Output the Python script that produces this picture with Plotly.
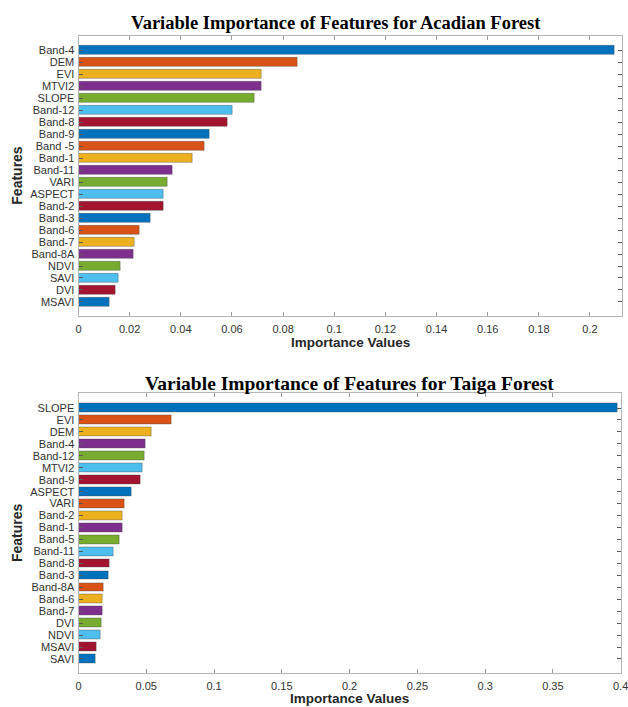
import plotly.graph_objects as go

# ---------------- data ----------------
acadian_features = ["Band-4", "DEM", "EVI", "MTVI2", "SLOPE", "Band-12", "Band-8",
                    "Band-9", "Band -5", "Band-1", "Band-11", "VARI", "ASPECT", "Band-2",
                    "Band-3", "Band-6", "Band-7", "Band-8A", "NDVI", "SAVI", "DVI", "MSAVI"]
acadian_values = [0.2094, 0.0857, 0.0714, 0.0714, 0.0688, 0.0603, 0.0582,
                  0.0514, 0.0492, 0.0447, 0.0369, 0.0348, 0.0331, 0.0331,
                  0.0281, 0.0237, 0.0218, 0.0215, 0.0164, 0.0158, 0.0145, 0.0122]

taiga_features = ["SLOPE", "EVI", "DEM", "Band-4", "Band-12", "MTVI2", "Band-9",
                  "ASPECT", "VARI", "Band-2", "Band-1", "Band-5", "Band-11", "Band-8",
                  "Band-3", "Band-8A", "Band-6", "Band-7", "DVI", "NDVI", "MSAVI", "SAVI"]
taiga_values = [0.398, 0.0688, 0.0535, 0.0493, 0.0488, 0.0471, 0.0456,
                0.0390, 0.0341, 0.0328, 0.0326, 0.0299, 0.0257, 0.0228,
                0.0218, 0.0188, 0.0178, 0.0176, 0.0166, 0.0159, 0.0131, 0.0122]

titles = ["Variable Importance of Features for Acadian Forest",
          "Variable Importance of Features for Taiga Forest"]
x_title = "Importance Values"
y_title = "Features"

palette = ["#0072BD", "#D95319", "#EDB120", "#7E2F8E", "#77AC30", "#4DBEEE", "#A2142F"]

W, H = 628, 707

def py(pix):
    return 1 - pix / H

def px(pix):
    return pix / W

fig = go.Figure()

panels = [
    dict(feats=acadian_features, vals=acadian_values, xa="x", ya="y",
         xr=[0, 0.2124], dtick=0.02, top=35.7, bot=315.7, left=78.5, right=621.7,
         title_y=23, title_size=18.5, title_dx=-0.022, xlab_y=342, ylab_y=175.7),
    dict(feats=taiga_features, vals=taiga_values, xa="x2", ya="y2",
         xr=[0, 0.40005], dtick=0.05, top=393.3, bot=672.7, left=78.5, right=620.7,
         title_y=383, title_size=19.5, title_dx=0.0, xlab_y=698, ylab_y=533),
]

axis_color = "#b5b5b5"
tick_font = dict(family="Liberation Sans, Arial, sans-serif", size=11, color="#333333")

for i, p in enumerate(panels):
    n = len(p["feats"])
    fig.add_trace(go.Bar(
        x=p["vals"], y=p["feats"], orientation="h",
        marker=dict(color=[palette[k % len(palette)] for k in range(n)],
                    line=dict(color="rgba(70,70,70,0.55)", width=0.7)),
        width=0.74, xaxis=p["xa"], yaxis=p["ya"], showlegend=False,
    ))
    sfx = "" if i == 0 else "2"
    fig.update_layout(**{
        "xaxis" + sfx: dict(
            domain=[px(p["left"]), px(p["right"])], range=p["xr"], dtick=p["dtick"], tick0=0,
            anchor="y" + sfx, showgrid=False, zeroline=False, showline=True,
            linecolor=axis_color, linewidth=1, mirror="ticks", ticks="inside",
            ticklen=4, tickcolor="#9a9a9a", tickfont=tick_font, ticklabelstandoff=3,
            ticklabeloverflow="allow", automargin=False,
        ),
        "yaxis" + sfx: dict(
            domain=[py(p["bot"]), py(p["top"])], type="category",
            categoryorder="array", categoryarray=p["feats"],
            tickmode="array", tickvals=p["feats"], ticktext=p["feats"],
            range=[n - 1 + 1.15, -1.23], anchor="x" + sfx, showgrid=False,
            zeroline=False, showline=True, linecolor=axis_color, linewidth=1,
            mirror="ticks", ticks="inside", ticklen=4, tickcolor="#5a5a5a",
            tickfont=tick_font, ticklabelstandoff=1, automargin=False,
        ),
    })
    # title
    fig.add_annotation(text="<b>" + titles[i] + "</b>",
                       x=px((p["left"] + p["right"]) / 2) + p["title_dx"],
                       y=py(p["title_y"]), xref="paper", yref="paper", showarrow=False,
                       xanchor="center", yanchor="middle",
                       font=dict(family="Liberation Serif, Times New Roman, serif",
                                 size=p["title_size"], color="#000000"))
    # x-axis title
    fig.add_annotation(text="<b>" + x_title + "</b>", x=px((p["left"] + p["right"]) / 2),
                       y=py(p["xlab_y"]), xref="paper", yref="paper", showarrow=False,
                       xanchor="center", yanchor="middle",
                       font=dict(family="Liberation Sans, Arial, sans-serif", size=13.5, color="#262626"))
    # y-axis title
    fig.add_annotation(text="<b>" + y_title + "</b>", x=px(17), y=py(p["ylab_y"]),
                       xref="paper", yref="paper", showarrow=False, textangle=-90,
                       xanchor="center", yanchor="middle",
                       font=dict(family="Liberation Sans, Arial, sans-serif", size=14, color="#262626"))

fig.update_layout(
    width=W, height=H, margin=dict(l=0, r=0, t=0, b=0, autoexpand=False),
    paper_bgcolor="white", plot_bgcolor="white", bargap=0,
)

fig.write_html("out.html")
